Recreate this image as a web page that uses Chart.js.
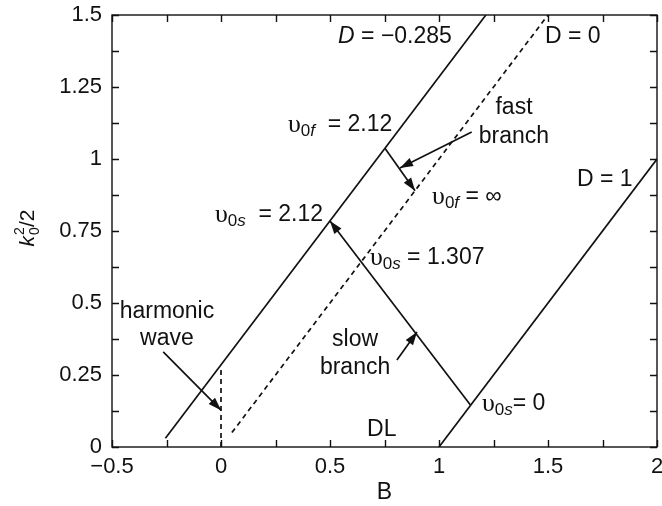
<!DOCTYPE html>
<html>
<head>
<meta charset="utf-8">
<script src="https://cdn.jsdelivr.net/npm/chart.js@4.4.0/dist/chart.umd.min.js"></script>
<style>
  html, body { margin: 0; padding: 0; background: #fff; }
  #wrap { width: 662px; height: 506px; }
</style>
</head>
<body>
<div id="wrap"><canvas id="chart"></canvas></div>
<script>
// tick labels
const xTickValues = [-0.5, 0, 0.5, 1, 1.5, 2];
const xTickLabels = ['−0.5', '0', '0.5', '1', '1.5', '2'];
const yTickValues = [0, 0.25, 0.5, 0.75, 1, 1.25, 1.5];
const yTickLabels = ['0', '0.25', '0.5', '0.75', '1', '1.25', '1.5'];

// lines, points are (B, k0^2/2)
const lineDm0285 = [{x: -0.255, y: 0.03}, {x: 1.215, y: 1.5}];
const lineD0 = [{x: 0.05, y: 0.05}, {x: 1.5, y: 1.5}];
const lineD1 = [{x: 1.0, y: 0.0}, {x: 2.0, y: 1.0}];
const slowBranch = [{x: 1.145, y: 0.145}, {x: 0.5, y: 0.785}];
const fastBranch = [{x: 0.752, y: 1.037}, {x: 0.89, y: 0.89}];
const harmonicLine = [{x: 0, y: 0}, {x: 0, y: 0.27}];
const harmonicPointer = [{x: -0.265, y: 0.33}, {x: 0, y: 0.128}];
const fastPointer = [{x: 1.15, y: 1.094}, {x: 0.821, y: 0.969}];
const slowPointer = [{x: 0.807, y: 0.302}, {x: 0.899, y: 0.399}];

// text notes, anchored in data units
const notes = [
  {x: 0.537, y: 1.424, align: 'left', parts: [['D', 'i'], [' = −0.285', 'n']]},
  {x: 1.486, y: 1.424, align: 'left', parts: [['D = 0', 'n']]},
  {x: 0.307, y: 1.118, align: 'left', parts: [['υ', 'g'], ['0', 'sub'], ['f', 'subi'], ['  = 2.12', 'n']]},
  {x: 1.344, y: 1.177, align: 'center', parts: [['fast', 'n']]},
  {x: 1.344, y: 1.076, align: 'center', parts: [['branch', 'n']]},
  {x: 0.968, y: 0.868, align: 'left', parts: [['υ', 'g'], ['0', 'sub'], ['f', 'subi'], [' = ∞', 'n']]},
  {x: 1.633, y: 0.927, align: 'left', parts: [['D = 1', 'n']]},
  {x: -0.028, y: 0.806, align: 'left', parts: [['υ', 'g'], ['0', 'sub'], ['s', 'subi'], ['  = 2.12', 'n']]},
  {x: 0.683, y: 0.656, align: 'left', parts: [['υ', 'g'], ['0', 'sub'], ['s', 'subi'], [' = 1.307', 'n']]},
  {x: -0.248, y: 0.469, align: 'center', parts: [['harmonic', 'n']]},
  {x: -0.248, y: 0.375, align: 'center', parts: [['wave', 'n']]},
  {x: 0.615, y: 0.372, align: 'center', parts: [['slow', 'n']]},
  {x: 0.615, y: 0.274, align: 'center', parts: [['branch', 'n']]},
  {x: 1.197, y: 0.149, align: 'left', parts: [['υ', 'g'], ['0', 'sub'], ['s', 'subi'], ['= 0', 'n']]},
  {x: 0.67, y: 0.059, align: 'left', parts: [['DL', 'n']]}
];

const SANS = '"Liberation Sans", Arial, sans-serif';
const textStyles = {
  n: {font: '23px ' + SANS, dy: 0},
  i: {font: 'italic 23px ' + SANS, dy: 0},
  g: {font: '26px "Liberation Serif", serif', dy: 0},
  sub: {font: '17px ' + SANS, dy: 6},
  subi: {font: 'italic 17px ' + SANS, dy: 6},
  sup: {font: '17px ' + SANS, dy: -9}
};

function tickText(value, values, labels) {
  const i = values.findIndex(v => Math.abs(v - value) < 1e-9);
  return i >= 0 ? labels[i] : '';
}

function drawRich(ctx, parts, x, y, align) {
  let w = 0;
  parts.forEach(([t, s]) => { ctx.font = textStyles[s].font; w += ctx.measureText(t).width; });
  let cx = align === 'center' ? x - w / 2 : x;
  ctx.textAlign = 'left';
  ctx.textBaseline = 'middle';
  parts.forEach(([t, s]) => {
    ctx.font = textStyles[s].font;
    ctx.fillText(t, cx, y + textStyles[s].dy);
    cx += ctx.measureText(t).width;
  });
}

function lineSet(points, dashed, arrowHead) {
  return {
    data: points,
    showLine: true,
    borderColor: '#111',
    borderWidth: 1.7,
    borderDash: dashed ? [5, 4] : [],
    pointRadius: 0,
    fill: false,
    arrowHead: arrowHead
  };
}

const sketchPlugin = {
  id: 'sketch',
  afterDatasetsDraw(chart) {
    const {ctx, chartArea: a, scales: {x, y}} = chart;
    ctx.save();
    ctx.fillStyle = '#111';
    ctx.strokeStyle = '#111';

    // arrow heads at the end of marked lines
    chart.data.datasets.forEach((ds, i) => {
      if (!ds.arrowHead) return;
      const pts = chart.getDatasetMeta(i).data;
      const p1 = pts[pts.length - 2], p2 = pts[pts.length - 1];
      const ang = Math.atan2(p2.y - p1.y, p2.x - p1.x);
      const len = 13, half = 4.5;
      const bx = p2.x - len * Math.cos(ang), by = p2.y - len * Math.sin(ang);
      ctx.beginPath();
      ctx.moveTo(p2.x, p2.y);
      ctx.lineTo(bx + half * Math.sin(ang), by - half * Math.cos(ang));
      ctx.lineTo(bx - half * Math.sin(ang), by + half * Math.cos(ang));
      ctx.closePath();
      ctx.fill();
    });

    // axes box with inward ticks on all sides
    ctx.lineWidth = 1.4;
    ctx.strokeRect(a.left, a.top, a.right - a.left, a.bottom - a.top);
    const tl = 7;
    ctx.beginPath();
    x.ticks.forEach(t => {
      const px = Math.round(x.getPixelForValue(t.value)) + 0.5;
      ctx.moveTo(px, a.bottom); ctx.lineTo(px, a.bottom - tl);
      ctx.moveTo(px, a.top); ctx.lineTo(px, a.top + tl);
    });
    y.ticks.forEach(t => {
      const py = Math.round(y.getPixelForValue(t.value)) + 0.5;
      ctx.moveTo(a.left, py); ctx.lineTo(a.left + tl, py);
      ctx.moveTo(a.right, py); ctx.lineTo(a.right - tl, py);
    });
    ctx.stroke();

    // notes
    notes.forEach(n => drawRich(ctx, n.parts, x.getPixelForValue(n.x), y.getPixelForValue(n.y), n.align));

    // y axis title k0^2/2
    const tMain = '21px ' + SANS, tItal = 'italic 21px ' + SANS, tSmall = '14px ' + SANS;
    ctx.translate(28, 228);
    ctx.rotate(-Math.PI / 2);
    ctx.textBaseline = 'middle';
    ctx.textAlign = 'left';
    ctx.font = tItal;
    const wk = ctx.measureText('k').width;
    ctx.font = tSmall;
    const wd = ctx.measureText('0').width;
    ctx.font = tMain;
    const ws = ctx.measureText('/2').width;
    let cx = -(wk + wd + ws + 1) / 2;
    ctx.font = tItal; ctx.fillText('k', cx, 0); cx += wk;
    ctx.font = tSmall; ctx.fillText('0', cx + 1, 7); ctx.fillText('2', cx + 1, -8); cx += wd + 1;
    ctx.font = tMain; ctx.fillText('/2', cx, 0);
    ctx.restore();
  }
};

const ctx = document.getElementById('chart');
ctx.chart = new Chart(ctx, {
  type: 'scatter',
  data: {
    datasets: [
      lineSet(lineDm0285, false, false),
      lineSet(lineD0, true, false),
      lineSet(lineD1, false, false),
      lineSet(slowBranch, false, true),
      lineSet(fastBranch, false, true),
      lineSet(harmonicLine, true, false),
      lineSet(harmonicPointer, false, true),
      lineSet(fastPointer, false, true),
      lineSet(slowPointer, false, true)
    ]
  },
  options: {
    responsive: true,
    maintainAspectRatio: false,
    animation: false,
    layout: {padding: {top: 15, right: 5, left: 0, bottom: 0}},
    plugins: {
      legend: {display: false},
      tooltip: {enabled: false}
    },
    scales: {
      x: {
        type: 'linear',
        min: -0.5,
        max: 2,
        grid: {display: false, drawTicks: false},
        border: {display: false},
        ticks: {
          stepSize: 0.25,
          autoSkip: false,
          maxRotation: 0,
          padding: 7,
          color: '#111',
          font: {family: SANS, size: 22},
          callback: v => tickText(v, xTickValues, xTickLabels)
        },
        title: {display: true, text: 'B', color: '#111', font: {family: SANS, size: 23}, padding: {top: 0, bottom: 0}},
        afterFit: s => { s.height = 59; s.paddingLeft = 0; s.paddingRight = 0; }
      },
      y: {
        type: 'linear',
        min: 0,
        max: 1.5,
        grid: {display: false, drawTicks: false},
        border: {display: false},
        ticks: {
          stepSize: 0.125,
          autoSkip: false,
          padding: 10,
          color: '#111',
          font: {family: SANS, size: 22},
          callback: v => tickText(v, yTickValues, yTickLabels)
        },
        afterFit: s => { s.width = 112; s.paddingTop = 0; s.paddingBottom = 0; }
      }
    }
  },
  plugins: [sketchPlugin]
});
</script>
</body>
</html>
